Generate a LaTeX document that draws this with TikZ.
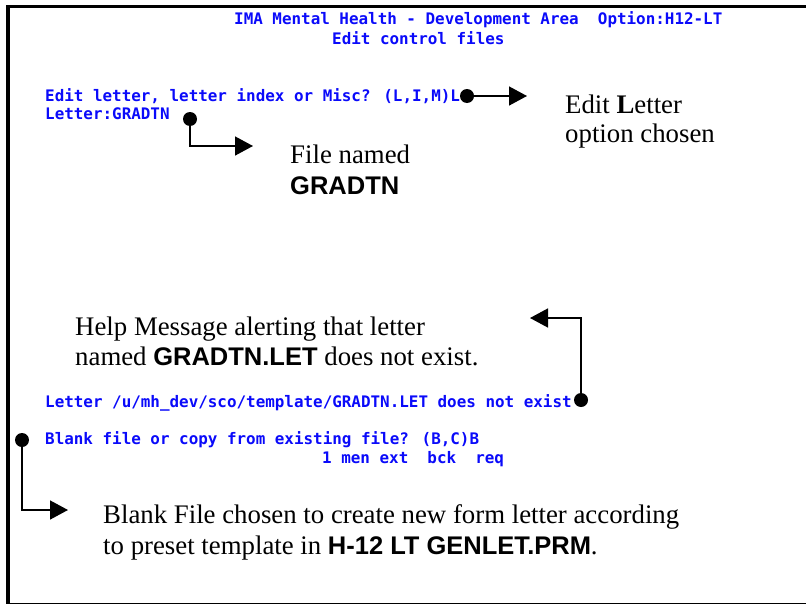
\documentclass[tikz,border=0pt]{standalone}
\usepackage{fontspec}
\setmainfont{Liberation Serif}
\newfontfamily\termfont{DejaVu Sans Mono}
\newfontfamily\headsans{Liberation Sans}
\usetikzlibrary{arrows.meta}
\definecolor{scrblue}{RGB}{10,10,250}
\newcommand\hb[1]{{\headsans\bfseries\fontsize{25.5}{30}\selectfont #1}}
\begin{document}
\begin{tikzpicture}[x=1pt,y=-1pt,
	term/.style={anchor=base west,inner sep=0pt,text=scrblue,font={\termfont\bfseries\fontsize{15.9}{18}\selectfont}},
	note/.style={anchor=base west,inner sep=0pt,font={\fontsize{26.8}{30}\selectfont}},
	blob/.style={circle,fill,inner sep=0pt,minimum size=14pt},
	pointer/.style={line width=1.5pt,-{Triangle[length=18pt,width=19pt]}}]
		\useasboundingbox (0,0) rectangle (806,605);
		% frame
		\draw[line width=3.5pt] (806,6.5) -- (8,6.5) -- (8,604);
		\draw[line width=1.5pt] (6.5,603.5) -- (806,603.5);
		% screen text
		\node[term] (head) at (234,24) {IMA Mental Health - Development Area~ Option:H12-LT};
		\node[term] (sub) at (332,44) {Edit control files};
		\node[term] (ask) at (45,101) {Edit letter, letter index or Misc? (L,I,M)L};
		\node[term] (name) at (45,119) {Letter:GRADTN};
		\node[term] (err) at (45,407) {Letter /u/mh\_dev/sco/template/GRADTN.LET does not exist};
		\node[term] (blank) at (45,444) {Blank file or copy from existing file? (B,C)B};
		\node[term] (keys) at (322,463) {1 men ext~ bck~ req};
		% notes
		\node[note] (optA) at (565,113) {Edit \textbf{L}etter};
		\node[note] (optB) at (565,142) {option chosen};
		\node[note] (fileA) at (290,163) {File named};
		\node[note] (fileB) at (290,194) {\hb{GRADTN}};
		\node[note] (helpA) at (75,335) {Help Message alerting that letter};
		\node[note] (helpB) at (75,365) {named \hb{GRADTN.LET} does not exist.};
		\node[note] (newA) at (103,523) {Blank File chosen to create new form letter according};
		\node[note] (newB) at (103,554) {to preset template in \hb{H-12 LT GENLET.PRM}.};
		% pointers
		\path
		(467,96) node[blob] (d1) {}
		(190,119) node[blob] (d2) {}
		(581,400) node[blob] (d3) {}
		(22,440) node[blob] (d4) {}
		(527,96) coordinate (e1)
		(253,146) coordinate (e2)
		(530,318) coordinate (e3)
		(68,510) coordinate (e4);
		\draw[pointer] (d1) -- (e1);
		\foreach \s/\t in {d2/e2,d3/e3,d4/e4} \draw[pointer] (\s.center) |- (\t);
	\end{tikzpicture}
\end{document}
